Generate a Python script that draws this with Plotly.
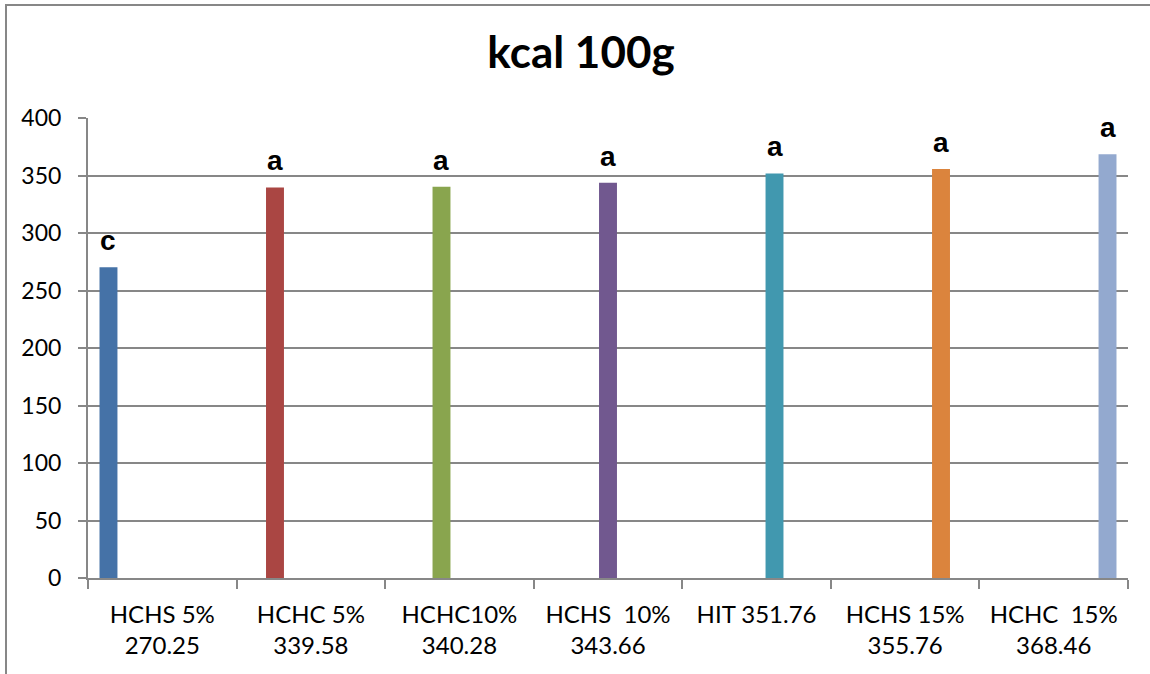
import plotly.graph_objects as go

# Energy content per 100 g for each formulation
categories = ["HCHS 5%<br>270.25", "HCHC 5%<br>339.58", "HCHC10%<br>340.28",
              "HCHS  10%<br>343.66", "HIT 351.76", "HCHS 15%<br>355.76",
              "HCHC  15%<br>368.46"]
values = [270.25, 339.58, 340.28, 343.66, 351.76, 355.76, 368.46]
letters = ["c", "a", "a", "a", "a", "a", "a"]
colors = ["#4572A7", "#AA4643", "#89A54E", "#71588F", "#4198AF", "#DB843D", "#93A9CF"]

W, H = 1150, 674
ML, MR, MT, MB = 88, 22, 118, 96
BARGAP = 0.155
GRID = "#878787"
Y_FONT = dict(family="Lato, Carlito, sans-serif", size=23, color="#000000")
X_FONT = dict(family="Lato, Carlito, sans-serif", size=24, color="#000000")

fig = go.Figure()
n = len(categories)
for i, (cat, val, col) in enumerate(zip(categories, values, colors)):
    ys = [val if j == i else None for j in range(n)]
    fig.add_trace(go.Bar(x=categories, y=ys, marker=dict(color=col, line=dict(width=0)),
                         name=cat, showlegend=False, hoverinfo="x+y"))

# significance letters above each bar (shifted to that bar's slot in the group)
plot_w = W - ML - MR
slot = plot_w / n * (1 - BARGAP) / n
for i, (cat, val, lab) in enumerate(zip(categories, values, letters)):
    fig.add_annotation(x=cat, y=val, text=f"<b>{lab}</b>", showarrow=False,
                       xshift=(i - (n - 1) / 2) * slot, yanchor="bottom", yshift=9,
                       font=dict(family="Liberation Sans, Arial, sans-serif", size=28,
                                 color="#000000"))

# outer chart frame
plot_h = H - MT - MB
fig.add_shape(type="rect", xref="paper", yref="paper",
              x0=(6 - ML) / plot_w, x1=(1170 - ML) / plot_w,
              y0=(H - MB - 700) / plot_h, y1=(H - MB - 5) / plot_h,
              line=dict(color=GRID, width=2), fillcolor="rgba(0,0,0,0)", layer="below")

fig.update_layout(
    width=W, height=H,
    margin=dict(l=ML, r=MR, t=MT, b=MB),
    paper_bgcolor="white", plot_bgcolor="white",
    barmode="group", bargap=BARGAP, bargroupgap=0,
    title=dict(text="<b>kcal 100g</b>", x=581 / W, xanchor="center",
               y=1 - 53 / H, yanchor="middle",
               font=dict(family="Lato, Carlito, sans-serif", size=44, color="#000000")),
    xaxis=dict(type="category", showgrid=False, showline=True, linecolor=GRID, linewidth=2,
               ticks="outside", tickson="boundaries", ticklen=9, tickcolor=GRID, tickwidth=2,
               tickfont=X_FONT, ticklabelstandoff=14),
    yaxis=dict(range=[0, 400], dtick=50, showgrid=True, gridcolor=GRID, gridwidth=2,
               showline=True, linecolor=GRID, linewidth=2, zeroline=False,
               ticks="outside", ticklen=8, tickcolor=GRID, tickwidth=2,
               tickfont=Y_FONT, ticklabelstandoff=12),
)

fig.write_html("out.html")
